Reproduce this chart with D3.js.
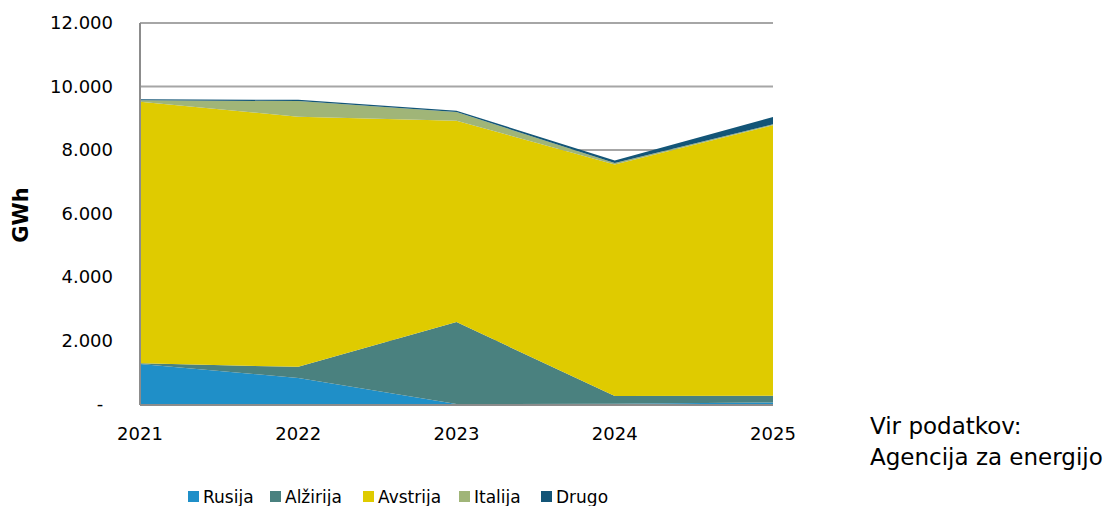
<!DOCTYPE html>
<html><head><meta charset="utf-8">
<script src="https://cdn.jsdelivr.net/npm/d3@7"></script>
<style>body{margin:0;background:#fff;} text{font-family:"DejaVu Sans",sans-serif;fill:#000;}</style>
</head><body><svg id="c" width="1115" height="506"></svg>
<script>
const years = ["2021","2022","2023","2024","2025"];
const seriesNames = ["Rusija","Alžirija","Avstrija","Italija","Drugo"];
const Rusija   = [1260, 820, 0, 10, 50];
const Alzirija = [20, 350, 2580, 240, 210];
const Avstrija = [8240, 7875, 6340, 7290, 8520];
const Italija  = [47, 495, 274, 50, 30];
const Drugo    = [35, 40, 41, 80, 230];
const yTicks = [0, 2000, 4000, 6000, 8000, 10000, 12000];
const colors = ["#1F8FC8","#4A817F","#DFCB00","#A0B578","#135577"];

const svg = d3.select("#c");
const M = {l:140, r:773, t:23, b:404};
const x = d3.scalePoint().domain(years).range([M.l, M.r]);
const y = d3.scaleLinear().domain([0,12000]).range([M.b, M.t]);

const table = years.map((yr,i)=>({year:yr, Rusija:Rusija[i], "Alžirija":Alzirija[i], Avstrija:Avstrija[i], Italija:Italija[i], Drugo:Drugo[i]}));
const stacked = d3.stack().keys(seriesNames)(table);

// gridlines
svg.append("g").selectAll("line").data(yTicks.filter(d=>d>0)).join("line")
  .attr("x1",M.l).attr("x2",M.r).attr("y1",d=>y(d)).attr("y2",d=>y(d))
  .attr("stroke","#A6A6A6").attr("stroke-width",2);

const area = d3.area().x(d=>x(d.data.year)).y0(d=>y(d[0])).y1(d=>y(d[1]));
svg.append("g").selectAll("path").data(stacked).join("path")
  .attr("d",area).attr("fill",(d,i)=>colors[i]);

// axes lines
svg.append("line").attr("x1",M.l).attr("x2",M.l).attr("y1",M.t).attr("y2",M.b+1).attr("stroke","#8C8C8C").attr("stroke-width",2);
svg.append("line").attr("x1",M.l).attr("x2",M.r).attr("y1",M.b+1).attr("y2",M.b+1).attr("stroke","#8C8C8C").attr("stroke-width",2);

// y tick labels
svg.append("g").selectAll("text").data(yTicks).join("text")
  .attr("x",d=>d===0?100:113).attr("y",d=>y(d)+6)
  .attr("text-anchor",d=>d===0?"middle":"end").attr("font-size",18)
  .text(d=>d===0?"-":d3.format(",")(d).replace(/,/g,"."));

// x tick labels
svg.append("g").selectAll("text").data(years).join("text")
  .attr("x",d=>x(d)).attr("y",440).attr("text-anchor","middle").attr("font-size",18)
  .text(d=>d);

// y title
svg.append("text").attr("transform","translate(28,215) rotate(-90)")
  .attr("text-anchor","middle").attr("font-size",21).attr("font-weight","bold").text("GWh");

// source
svg.append("text").attr("x",870).attr("y",434).attr("font-size",23).text("Vir podatkov:");
svg.append("text").attr("x",870).attr("y",465).attr("font-size",23).text("Agencija za energijo");

// legend
const legX = [188, 270, 363, 459, 541];
const lg = svg.append("g").selectAll("g").data(seriesNames).join("g")
  .attr("transform",(d,i)=>`translate(${legX[i]},0)`);
lg.append("rect").attr("x",0).attr("y",491).attr("width",11).attr("height",11).attr("fill",(d,i)=>colors[i]);
lg.append("text").attr("x",15).attr("y",503).attr("font-size",17).text(d=>d);
</script></body></html>
